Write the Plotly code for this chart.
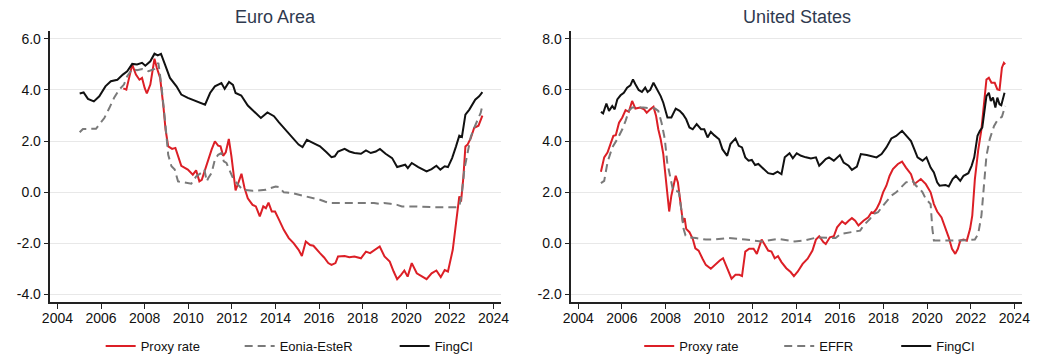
import plotly.graph_objects as go

# ---------------- Euro Area ----------------
ea_fci_x = [2005.02, 2005.2, 2005.4, 2005.67, 2005.92, 2006.2, 2006.45, 2006.75, 2007.0, 2007.2, 2007.43, 2007.65,
            2007.88, 2008.03, 2008.26, 2008.45, 2008.6, 2008.75, 2008.93, 2009.16, 2009.46, 2009.68, 2009.98,
            2010.29, 2010.59, 2010.77, 2011.0, 2011.22, 2011.52, 2011.67, 2011.87, 2012.05, 2012.17, 2012.43,
            2012.73, 2013.03, 2013.33, 2013.63, 2013.93, 2014.16, 2014.46, 2014.76, 2015.06, 2015.24, 2015.44,
            2015.74, 2016.04, 2016.34, 2016.57, 2016.72, 2016.87, 2017.17, 2017.39, 2017.62, 2017.92, 2018.15,
            2018.37, 2018.6, 2018.79, 2019.05, 2019.35, 2019.58, 2019.8, 2019.95, 2020.07, 2020.25, 2020.55,
            2020.93, 2021.16, 2021.38, 2021.56, 2021.76, 2021.91, 2022.1, 2022.28, 2022.43, 2022.55, 2022.71,
            2022.89, 2023.16, 2023.34, 2023.49]
ea_fci_y = [3.86, 3.9, 3.65, 3.55, 3.75, 4.14, 4.34, 4.4, 4.6, 4.73, 5.02, 5.0,
            5.06, 4.95, 5.12, 5.42, 5.35, 5.41, 5.0, 4.47, 4.14, 3.82, 3.69,
            3.58, 3.46, 3.42, 3.88, 4.14, 4.27, 4.04, 4.31, 4.2, 3.88, 3.78,
            3.39, 3.16, 2.9, 3.12, 2.97, 2.73, 2.44, 2.12, 1.86, 1.76, 2.05,
            1.92, 1.79, 1.56, 1.37, 1.4, 1.59, 1.69, 1.59, 1.53, 1.5, 1.63,
            1.53, 1.59, 1.69, 1.5, 1.33, 0.98, 1.03, 1.07, 0.94, 1.14, 0.98,
            0.81, 0.9, 1.03, 0.88, 1.01, 0.98, 1.33, 1.79, 2.21, 2.16, 3.03,
            3.23, 3.62, 3.75, 3.91]

ea_proxy_x = [2007.02, 2007.16, 2007.43, 2007.6, 2007.76, 2007.88, 2008.0, 2008.1, 2008.26, 2008.45, 2008.56,
              2008.71, 2008.86, 2008.96, 2009.08, 2009.26, 2009.41, 2009.56, 2009.68, 2009.98, 2010.21, 2010.36,
              2010.51, 2010.62, 2010.77, 2010.92, 2011.07, 2011.22, 2011.37, 2011.48, 2011.6, 2011.72, 2011.86,
              2011.98, 2012.17, 2012.32, 2012.44, 2012.58, 2012.73, 2012.95, 2013.1, 2013.28, 2013.44, 2013.56,
              2013.68, 2013.83, 2013.98, 2014.16, 2014.38, 2014.61, 2014.83, 2015.06, 2015.21, 2015.39, 2015.59,
              2015.74, 2015.89, 2016.04, 2016.23, 2016.42, 2016.57, 2016.75, 2016.87, 2017.17, 2017.39, 2017.62,
              2017.92, 2018.15, 2018.34, 2018.52, 2018.78, 2019.0, 2019.24, 2019.42, 2019.58, 2019.76, 2019.91,
              2020.06, 2020.25, 2020.48, 2020.7, 2020.93, 2021.16, 2021.38, 2021.58, 2021.76, 2021.91, 2022.13,
              2022.28, 2022.43, 2022.51, 2022.62, 2022.71, 2022.81, 2022.96, 2023.11, 2023.31, 2023.49]
ea_proxy_y = [4.06, 4.01, 4.99, 4.6, 4.4, 4.47, 4.08, 3.86, 4.21, 5.22, 4.86,
              4.47, 3.36, 2.44, 1.79, 1.69, 1.73, 1.33, 1.03, 0.88, 0.68, 0.85,
              0.42, 0.48, 0.88, 1.33, 1.66, 1.99, 1.82, 1.79, 1.42, 1.56, 2.08,
              1.4, 0.07, 0.42, 0.72, 0.16, -0.24, -0.5, -0.56, -0.95, -0.56, -0.63,
              -0.41, -0.76, -0.76, -1.08, -1.48, -1.8, -2.0, -2.26, -2.5, -1.93, -2.07,
              -2.1, -2.26, -2.39, -2.56, -2.78, -2.85, -2.78, -2.52, -2.5, -2.55, -2.52,
              -2.59, -2.33, -2.39, -2.29, -2.13, -2.52, -2.72, -3.11, -3.41, -3.24, -3.07,
              -3.31, -2.78, -3.18, -3.28, -3.41, -3.18, -3.07, -3.33, -3.05, -3.11, -2.26,
              -1.22, -0.17, -0.37, 0.61, 1.79, 1.86, 2.12, 2.51, 2.6, 2.99]

ea_rate_x = [2005.02, 2005.17, 2005.77, 2005.92, 2006.15, 2006.38, 2006.6, 2006.83, 2007.05, 2007.2, 2007.43,
             2007.65, 2007.88, 2008.18, 2008.45, 2008.63, 2008.78, 2008.93, 2009.08, 2009.23, 2009.38, 2009.53,
             2009.83, 2010.14, 2010.36, 2010.59, 2010.74, 2010.85, 2010.92, 2011.07, 2011.22, 2011.37, 2011.52,
             2011.63, 2011.75, 2011.9, 2012.05, 2012.28, 2012.5, 2012.95, 2013.56, 2013.78, 2014.01, 2014.16,
             2014.38, 2014.76, 2015.06, 2015.36, 2015.81, 2016.04, 2016.26, 2016.49, 2016.87, 2017.77, 2018.52,
             2018.75, 2018.97, 2019.27, 2019.58, 2019.8, 2020.33, 2021.23, 2022.28, 2022.43, 2022.55, 2022.66,
             2022.81, 2022.96, 2023.11, 2023.26, 2023.41, 2023.49]
ea_rate_y = [2.34, 2.47, 2.48, 2.64, 2.9, 3.29, 3.69, 4.01, 4.21, 4.54, 4.82,
             4.77, 4.82, 4.73, 4.82, 5.06, 4.08, 2.84, 1.46, 1.01, 0.88, 0.42,
             0.38, 0.33, 0.61, 0.75, 0.88, 0.42, 0.55, 0.75, 1.27, 1.46, 1.53,
             1.2, 1.14, 0.81, 0.55, 0.29, 0.09, 0.05, 0.09, 0.16, 0.22, 0.2,
             -0.01, -0.04, -0.1, -0.17, -0.24, -0.3, -0.37, -0.43, -0.43, -0.43, -0.43,
             -0.46, -0.43, -0.46, -0.5, -0.56, -0.56, -0.59, -0.59, -0.56, -0.04, 0.88,
             1.53, 2.18, 2.51, 2.84, 3.1, 3.39]

# ---------------- United States ----------------
us_fci_x = [2005.04, 2005.14, 2005.29, 2005.41, 2005.56, 2005.67, 2005.79, 2005.94, 2006.09, 2006.24, 2006.39,
            2006.51, 2006.62, 2006.77, 2006.92, 2007.07, 2007.18, 2007.3, 2007.45, 2007.63, 2007.78, 2007.9,
            2007.97, 2008.09, 2008.27, 2008.47, 2008.65, 2008.8, 2008.95, 2009.1, 2009.25, 2009.43, 2009.63,
            2009.78, 2009.93, 2010.08, 2010.23, 2010.46, 2010.61, 2010.83, 2010.98, 2011.21, 2011.36, 2011.51,
            2011.66, 2011.81, 2011.96, 2012.11, 2012.26, 2012.49, 2012.71, 2012.94, 2013.14, 2013.32, 2013.47,
            2013.69, 2013.84, 2014.02, 2014.22, 2014.44, 2014.67, 2014.9, 2015.05, 2015.2, 2015.35, 2015.5,
            2015.72, 2016.0, 2016.17, 2016.4, 2016.55, 2016.78, 2016.96, 2017.23, 2017.45, 2017.68, 2017.91,
            2018.13, 2018.36, 2018.58, 2018.85, 2019.03, 2019.26, 2019.41, 2019.56, 2019.79, 2019.97, 2020.16,
            2020.31, 2020.46, 2020.57, 2020.84, 2020.99, 2021.17, 2021.32, 2021.52, 2021.67, 2021.89, 2022.04,
            2022.16, 2022.31, 2022.42, 2022.53, 2022.62, 2022.72, 2022.83, 2022.92, 2023.02, 2023.13, 2023.22,
            2023.32, 2023.4, 2023.55]
us_fci_y = [5.14, 5.08, 5.47, 5.18, 5.37, 5.24, 5.63, 5.79, 5.89, 6.09, 6.18,
            6.41, 6.22, 6.0, 5.92, 6.09, 5.92, 6.0, 6.28, 6.02, 5.76, 5.5,
            5.24, 4.92, 4.92, 5.27, 5.18, 5.05, 4.85, 4.53, 4.46, 4.66, 4.46,
            4.46, 4.14, 4.36, 4.23, 4.07, 3.68, 3.42, 3.88, 4.1, 3.81, 3.75,
            3.36, 3.23, 3.26, 3.06, 3.1, 2.9, 2.74, 2.7, 2.8, 2.7, 3.36,
            3.52, 3.32, 3.52, 3.42, 3.36, 3.32, 3.36, 3.03, 3.16, 3.29, 3.36,
            3.23, 3.45, 3.16, 3.03, 2.87, 3.0, 3.49, 3.45, 3.42, 3.36, 3.49,
            3.75, 4.1, 4.2, 4.4, 4.23, 4.0, 3.68, 3.36, 3.23, 3.36, 2.96,
            2.77, 2.38, 2.25, 2.28, 2.22, 2.51, 2.64, 2.44, 2.64, 2.74, 3.03,
            3.36, 4.2, 4.4, 4.53, 5.11, 5.76, 5.89, 5.57, 5.7, 5.31, 5.7,
            5.44, 5.4, 5.89]

us_proxy_x = [2005.04, 2005.19, 2005.34, 2005.49, 2005.61, 2005.72, 2005.87, 2006.02, 2006.17, 2006.32, 2006.47,
              2006.62, 2006.84, 2007.02, 2007.14, 2007.3, 2007.45, 2007.57, 2007.67, 2007.78, 2007.9, 2007.97,
              2008.08, 2008.17, 2008.27, 2008.38, 2008.47, 2008.57, 2008.69, 2008.8, 2008.88, 2008.95, 2009.1,
              2009.25, 2009.37, 2009.52, 2009.7, 2009.85, 2010.08, 2010.31, 2010.49, 2010.64, 2010.83, 2011.03,
              2011.21, 2011.39, 2011.51, 2011.66, 2011.84, 2012.04, 2012.19, 2012.41, 2012.56, 2012.71, 2012.86,
              2013.01, 2013.16, 2013.32, 2013.54, 2013.74, 2013.89, 2014.07, 2014.29, 2014.52, 2014.74, 2014.9,
              2015.05, 2015.24, 2015.35, 2015.54, 2015.72, 2015.87, 2016.1, 2016.25, 2016.4, 2016.55, 2016.7,
              2016.85, 2017.08, 2017.3, 2017.45, 2017.53, 2017.68, 2017.83, 2017.98, 2018.13, 2018.28, 2018.43,
              2018.66, 2018.85, 2019.03, 2019.26, 2019.41, 2019.56, 2019.71, 2019.94, 2020.16, 2020.31, 2020.46,
              2020.66, 2020.84, 2020.99, 2021.14, 2021.29, 2021.41, 2021.52, 2021.67, 2021.82, 2021.97, 2022.07,
              2022.19, 2022.34, 2022.49, 2022.62, 2022.72, 2022.83, 2022.95, 2023.1, 2023.22, 2023.32, 2023.43,
              2023.52, 2023.58]
us_proxy_y = [2.8, 3.36, 3.55, 3.88, 4.2, 4.23, 4.72, 4.92, 5.21, 5.14, 5.57,
              5.27, 5.31, 5.24, 5.11, 5.24, 5.34, 4.98, 4.46, 4.07, 3.49, 2.9,
              1.86, 1.24, 1.86, 2.38, 2.64, 2.38, 1.53, 0.82, 0.98, 0.56, 0.43,
              0.17, -0.2, -0.29, -0.61, -0.85, -1.0, -0.81, -0.68, -0.59, -1.0, -1.39,
              -1.24, -1.24, -1.29, -0.33, -0.22, -0.22, -0.42, 0.14, -0.07, -0.29, -0.33,
              -0.59, -0.51, -0.74, -0.98, -1.13, -1.29, -1.11, -0.81, -0.61, -0.29, 0.14,
              0.27, 0.04, -0.03, 0.23, 0.27, 0.62, 0.85, 0.75, 0.88, 0.98, 0.88,
              0.69, 0.88, 1.01, 1.21, 1.18, 1.34, 1.6, 1.99, 2.25, 2.64, 2.9,
              3.1, 3.19, 2.96, 2.7, 2.31, 2.41, 2.51, 2.31, 1.99, 1.53, 1.24,
              1.01, 0.62, 0.23, -0.22, -0.42, -0.22, 0.1, 0.14, 0.1, 0.56, 1.08,
              2.51, 3.62, 4.46, 5.44, 6.41, 6.48, 6.28, 6.28, 6.02, 6.0, 6.87,
              7.06, 7.0]

us_rate_x = [2005.04, 2005.19, 2005.34, 2005.56, 2005.79, 2006.02, 2006.17, 2006.32, 2006.47, 2006.99, 2007.52,
             2007.67, 2007.82, 2007.97, 2008.08, 2008.2, 2008.35, 2008.5, 2008.62, 2008.72, 2008.83, 2008.92,
             2009.1, 2009.4, 2009.85, 2010.15, 2010.91, 2011.66, 2012.41, 2013.16, 2013.92, 2014.37, 2014.97,
             2015.57, 2015.8, 2016.02, 2016.48, 2016.93, 2017.08, 2017.38, 2017.53, 2017.75, 2017.91, 2018.13,
             2018.36, 2018.58, 2018.81, 2019.03, 2019.33, 2019.49, 2019.64, 2019.79, 2019.94, 2020.09, 2020.16,
             2020.24, 2020.31, 2020.69, 2021.44, 2022.19, 2022.34, 2022.49, 2022.62, 2022.72, 2022.87, 2023.07,
             2023.25, 2023.43, 2023.58]
us_rate_y = [2.35, 2.44, 3.16, 3.75, 4.07, 4.46, 4.79, 5.18, 5.31, 5.31, 5.27,
             5.18, 4.72, 4.07, 3.16, 2.64, 2.05, 2.05, 1.99, 1.34, 0.56, 0.3,
             0.23, 0.2, 0.14, 0.14, 0.2, 0.14, 0.07, 0.17, 0.07, 0.1, 0.23,
             0.2, 0.2, 0.36, 0.43, 0.49, 0.69, 0.95, 1.14, 1.21, 1.4, 1.63,
             1.86, 1.99, 2.18, 2.38, 2.44, 2.25, 2.15, 1.99, 1.73, 1.6, 1.53,
             0.56, 0.1, 0.1, 0.1, 0.14, 0.36, 1.08, 2.31, 3.42, 4.07, 4.59,
             4.85, 4.95, 5.37]

year_ticks = [2004, 2006, 2008, 2010, 2012, 2014, 2016, 2018, 2020, 2022, 2024]
ea_yticks = [-4, -2, 0, 2, 4, 6]
ea_ytext = ["-4.0", "-2.0", "0.0", "2.0", "4.0", "6.0"]
us_yticks = [-2, 0, 2, 4, 6, 8]
us_ytext = ["-2.0", "0.0", "2.0", "4.0", "6.0", "8.0"]

RED = "#dc1f26"
GRAY = "#7a7a7a"
BLACK = "#111111"
FONT = "Liberation Sans, Arial, Helvetica, sans-serif"

fig = go.Figure()

def add(x, y, name, color, dash, xa, ya, legend, lw):
    fig.add_trace(go.Scatter(x=x, y=y, name=name, mode="lines",
                             line=dict(color=color, width=2, dash=dash),
                             xaxis=xa, yaxis=ya, legend=legend, legendwidth=lw))

add(ea_proxy_x, ea_proxy_y, "Proxy rate", RED, "solid", "x", "y", "legend", 94)
add(ea_rate_x, ea_rate_y, "Eonia-EsteR", GRAY, "8px,5px", "x", "y", "legend", 110)
add(ea_fci_x, ea_fci_y, "FingCI", BLACK, "solid", "x", "y", "legend", 45)
add(us_proxy_x, us_proxy_y, "Proxy rate", RED, "solid", "x2", "y2", "legend2", 95)
add(us_rate_x, us_rate_y, "EFFR", GRAY, "8px,5px", "x2", "y2", "legend2", 72)
add(us_fci_x, us_fci_y, "FingCI", BLACK, "solid", "x2", "y2", "legend2", 45)

# the page body adds an 8px margin; lay out the figure in page pixels minus that offset
OFF = 8
W, H = 1043 - OFF, 361 - OFF

def px(p):
    return (p - OFF) / W

def py(p):
    return (H - (p - OFF)) / H

ydom = [py(303), py(31)]

xcommon = dict(range=[2003.68, 2024.36], tickvals=year_ticks, showgrid=False, zeroline=False,
               showline=True, linecolor="#222222", linewidth=1.5, ticks="outside", ticklen=5,
               tickcolor="#222222", ticklabelstandoff=-3,
               tickfont=dict(size=14, color="#111111", family=FONT))
ycommon = dict(showgrid=True, gridcolor="#e8e8e8", gridwidth=1, zeroline=False,
               showline=True, linecolor="#222222", linewidth=1.5, ticks="outside", ticklen=5,
               tickcolor="#222222", tickfont=dict(size=14, color="#111111", family=FONT))

legcommon = dict(orientation="h", yanchor="middle", y=py(347), xanchor="left",
                 font=dict(size=13, color="#111111", family=FONT), bgcolor="rgba(0,0,0,0)",
                 tracegroupgap=0)

fig.update_layout(
    width=W, height=H,
    margin=dict(l=0, r=0, t=0, b=0),
    paper_bgcolor="white", plot_bgcolor="white",
    font=dict(family=FONT),
    showlegend=True,
    xaxis=dict(domain=[px(43), px(501)], anchor="y", **xcommon),
    yaxis=dict(domain=ydom, anchor="x", range=[-4.31, 6.31], tickvals=ea_yticks, ticktext=ea_ytext, **ycommon),
    xaxis2=dict(domain=[px(572), px(1030)], anchor="y2", **xcommon),
    yaxis2=dict(domain=ydom, anchor="x2", range=[-2.31, 8.31], tickvals=us_yticks, ticktext=us_ytext, **ycommon),
    legend=dict(x=px(94), **legcommon),
    legend2=dict(x=px(641), **legcommon),
    annotations=[
        dict(text="Euro Area", x=px(272), y=py(17), xref="paper", yref="paper",
             showarrow=False, xanchor="center", yanchor="middle",
             font=dict(size=18, color="#2f3a4f", family=FONT)),
        dict(text="United States", x=px(801), y=py(17), xref="paper", yref="paper",
             showarrow=False, xanchor="center", yanchor="middle",
             font=dict(size=18, color="#2f3a4f", family=FONT)),
    ],
)

fig.write_html("out.html")
